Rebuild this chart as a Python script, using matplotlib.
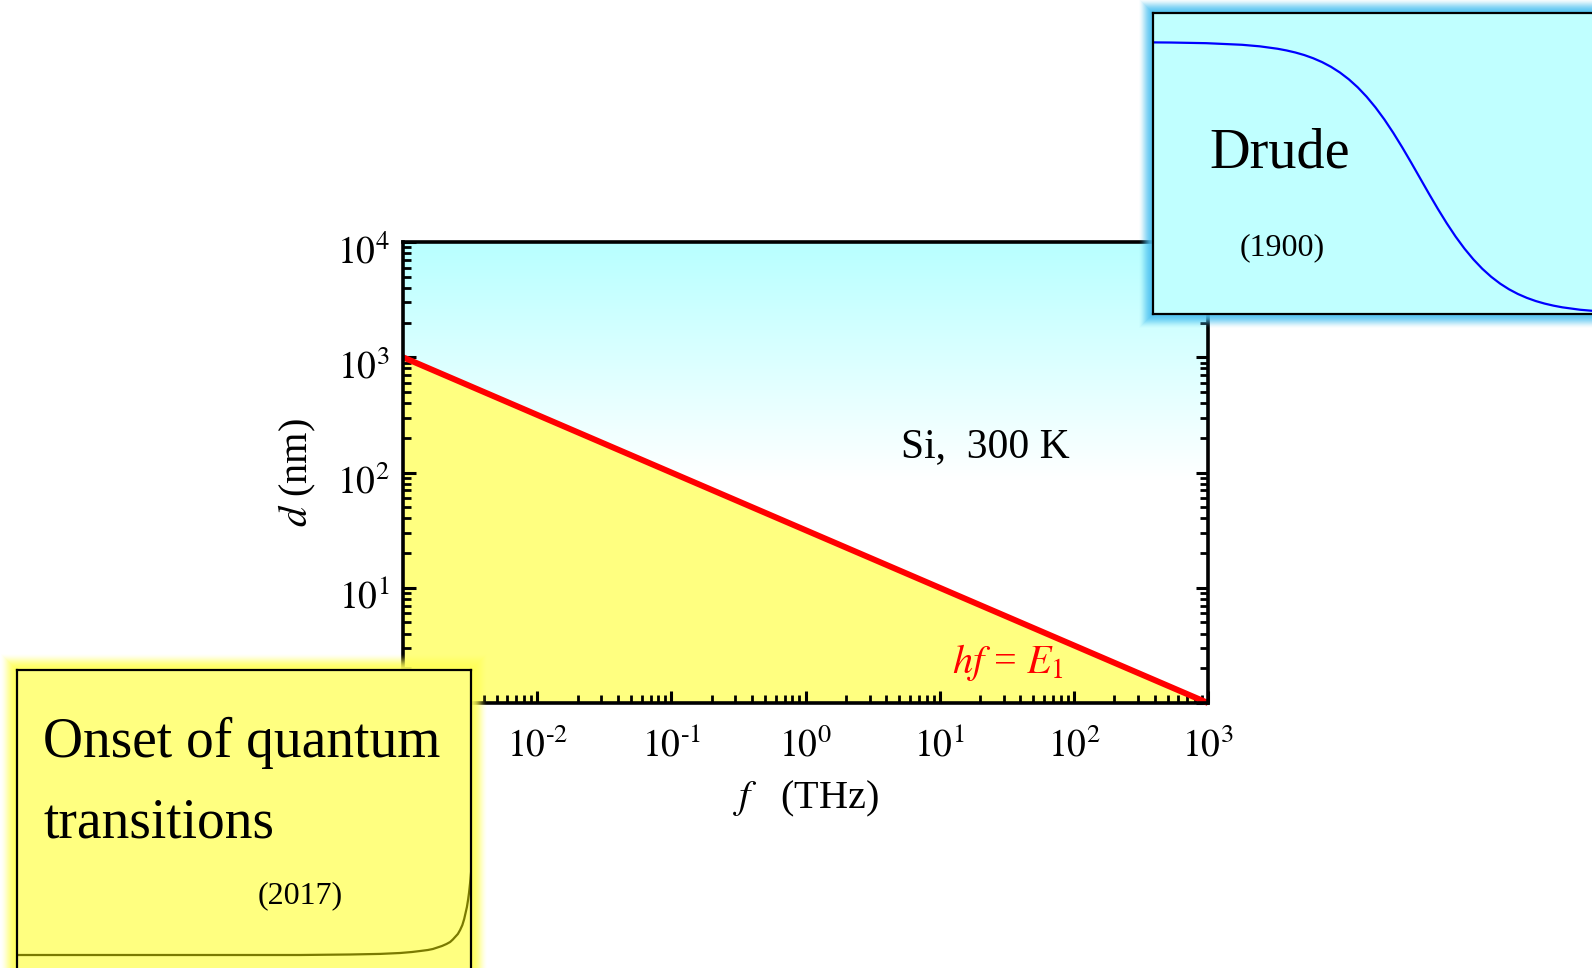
import numpy as np
import matplotlib
matplotlib.use("Agg")
import matplotlib.pyplot as plt
import matplotlib.transforms as mtrans
from matplotlib.patches import Rectangle
from matplotlib.ticker import LogLocator, NullFormatter

plt.rcParams['font.family'] = ['Liberation Serif', 'DejaVu Serif']
plt.rcParams['mathtext.fontset'] = 'stix'
plt.rcParams['axes.unicode_minus'] = False

# ---- data ----
f_line = [1e-3, 1e3]          # THz
d_line = [1e3, 1e0]           # nm, hf = E1
x_ticks = [1e-3, 1e-2, 1e-1, 1e0, 1e1, 1e2, 1e3]
x_tick_labels = ['', r'$10^{\text{-}2}$', r'$10^{\text{-}1}$', r'$10^{0}$',
                 r'$10^{1}$', r'$10^{2}$', r'$10^{3}$']   # 10^-3 hidden behind inset
y_ticks = [1e0, 1e1, 1e2, 1e3, 1e4]
y_tick_labels = ['', r'$10^{1}$', r'$10^{2}$', r'$10^{3}$', r'$10^{4}$']  # 10^0 hidden

# Drude inset curve (normalised conductivity vs frequency)
drude_logf = [-1.6, -1.4, -1.2, -1.0, -0.9, -0.8, -0.75, -0.7, -0.65, -0.6, -0.55, -0.5,
              -0.45, -0.4, -0.35, -0.3, -0.25, -0.2, -0.15, -0.1, -0.05, 0.0, 0.05, 0.1,
              0.15, 0.2, 0.25, 0.3, 0.35, 0.4, 0.45, 0.5, 0.55, 0.6, 0.65, 0.7, 0.75, 0.8,
              0.9, 1.0, 1.2, 1.4, 1.6]
drude_s = [0.9994, 0.9984, 0.9960, 0.9901, 0.9844, 0.9755, 0.9693, 0.9617, 0.9523, 0.9406,
           0.9264, 0.9091, 0.8882, 0.8632, 0.8337, 0.7992, 0.7597, 0.7153, 0.6661, 0.6131,
           0.5573, 0.5000, 0.4427, 0.3869, 0.3339, 0.2847, 0.2403, 0.2008, 0.1663, 0.1368,
           0.1118, 0.0909, 0.0736, 0.0594, 0.0477, 0.0383, 0.0307, 0.0245, 0.0156, 0.0099,
           0.0040, 0.0016, 0.0006]

# Quantum onset inset curve
onset_x = [0.0, 0.30, 0.623, 0.733, 0.80, 0.844, 0.870, 0.888, 0.905, 0.916, 0.926, 0.936,
           0.946, 0.954, 0.960, 0.965, 0.971, 0.976, 0.981, 0.985, 0.988, 0.991, 0.9935,
           0.9956, 0.998, 1.0]
onset_y = [0.0, 0.0, 0.0, 0.005, 0.011, 0.02, 0.03, 0.04, 0.05, 0.06, 0.075, 0.09,
           0.11, 0.13, 0.155, 0.18, 0.21, 0.25, 0.30, 0.36, 0.42, 0.48, 0.55,
           0.62, 0.72, 0.82]

W, H = 1592, 968
fig = plt.figure(figsize=(W / 100, H / 100), dpi=100)

def fr(x0, y0, x1, y1):
    return [x0 / W, 1 - y1 / H, (x1 - x0) / W, (y1 - y0) / H]

# ---- main axes ----
ax = fig.add_axes(fr(403, 242, 1208, 703))
ax.set_xscale('log')
ax.set_yscale('log')
ax.set_xlim(1e-3, 1e3)
ax.set_ylim(1e0, 1e4)

# background gradient (cyan at top -> white)
n = 400
yy = np.linspace(1, 0, n)
y0 = (703 - 480) / 461.0
t = np.clip((yy - y0) / (1 - y0), 0, 1)
top = np.array([0.72, 1.0, 1.0])
col = 1 - t[:, None] * (1 - top[None, :])
img = np.repeat(col[:, None, :], 2, axis=1)
ax.imshow(img, extent=[0, 1, 0, 1], transform=ax.transAxes, aspect='auto', zorder=0)

ax.fill_between(f_line, d_line, 1e0, color='#ffff80', linewidth=0, zorder=1)
ax.plot(f_line, d_line, color='#ff0000', linewidth=4.3, solid_capstyle='butt', zorder=3,
        clip_on=False)

for s in ax.spines.values():
    s.set_linewidth(2.6)
    s.set_zorder(4)

ax.set_xticks(x_ticks)
ax.set_xticklabels(x_tick_labels)
ax.set_yticks(y_ticks)
ax.set_yticklabels(y_tick_labels)
ax.xaxis.set_minor_locator(LogLocator(base=10, subs=np.arange(2, 10)))
ax.yaxis.set_minor_locator(LogLocator(base=10, subs=np.arange(2, 10)))
ax.xaxis.set_minor_formatter(NullFormatter())
ax.yaxis.set_minor_formatter(NullFormatter())
ax.tick_params(which='both', direction='in', top=False, right=True, bottom=True, left=True)
ax.tick_params(which='major', length=9, width=2.2, labelsize=27)
ax.tick_params(which='minor', length=5.5, width=2.0)
ax.tick_params(axis='y', which='major', pad=10)
ax.tick_params(axis='x', which='major', pad=18)

off = mtrans.ScaledTranslation(0, -5 / 72, fig.dpi_scale_trans)
for lab in ax.yaxis.get_majorticklabels():
    lab.set_transform(lab.get_transform() + off)

ax.set_xlabel(r'$f$   (THz)', fontsize=29)
ax.xaxis.set_label_coords(0.5, -0.165)
ax.set_ylabel(r'$d$ (nm)', fontsize=29)
ax.yaxis.set_label_coords(-0.106, 0.5)

ax.text((985 - 403) / 805, (703 - 457) / 461, 'Si,  300 K', fontsize=30,
        ha='center', va='baseline', transform=ax.transAxes, zorder=5)
ax.text((1008 - 403) / 805, (703 - 673) / 461, r'$hf$ = $E_1$', fontsize=29, color='red',
        ha='center', va='baseline', transform=ax.transAxes, zorder=5)

# ---- glow helper ----
def glow(x0, y0, x1, y1, color, width, alpha0):
    for i in range(width, 0, -1):
        a = alpha0 * (1 - i / (width + 1))
        r = Rectangle(((x0 - i) / W, 1 - (y1 + i) / H), (x1 - x0 + 2 * i) / W,
                      (y1 - y0 + 2 * i) / H, transform=fig.transFigure,
                      facecolor=color, edgecolor='none', alpha=a * 0.35, zorder=1.5)
        fig.patches.append(r)

# ---- Drude inset ----
glow(1153, 13, 1700, 314, (0.30, 0.76, 0.95), 14, 1.0)
axd = fig.add_axes(fr(1153, 13, 1700, 314))
axd.set_zorder(2)
axd.set_facecolor('#c0ffff')
axd.set_xlim(-1.5, 1.573)
axd.set_ylim(0, 1.107)
axd.plot(drude_logf, drude_s, color='#0000ff', linewidth=1.6)
axd.set_xticks([]); axd.set_yticks([])
for s in axd.spines.values():
    s.set_linewidth(1.6)
fig.text(1209 / W, 1 - 167 / H, 'Drude', fontsize=40.5, ha='left', va='baseline', zorder=5)
fig.text(1282 / W, 1 - 255 / H, '(1900)', fontsize=23, ha='center', va='baseline', zorder=5)

# ---- quantum onset inset ----
glow(17, 670, 471, 1000, (1.0, 1.0, 0.35), 16, 1.0)
axq = fig.add_axes(fr(17, 670, 471, 1000))
axq.set_zorder(2)
axq.set_facecolor('#ffff80')
axq.set_xlim(0, 1)
axq.set_ylim(-0.45, 2.85)
axq.plot(onset_x, onset_y, color='#7a7a00', linewidth=1.6)
axq.set_xticks([]); axq.set_yticks([])
for s in axq.spines.values():
    s.set_linewidth(1.6)
fig.text(43 / W, 1 - 757 / H, 'Onset of quantum', fontsize=40, ha='left', va='baseline', zorder=5)
fig.text(43 / W, 1 - 838 / H, 'transitions', fontsize=40, ha='left', va='baseline', zorder=5)
fig.text(300 / W, 1 - 903 / H, '(2017)', fontsize=23, ha='center', va='baseline', zorder=5)

fig.savefig('out.png', dpi=100)
